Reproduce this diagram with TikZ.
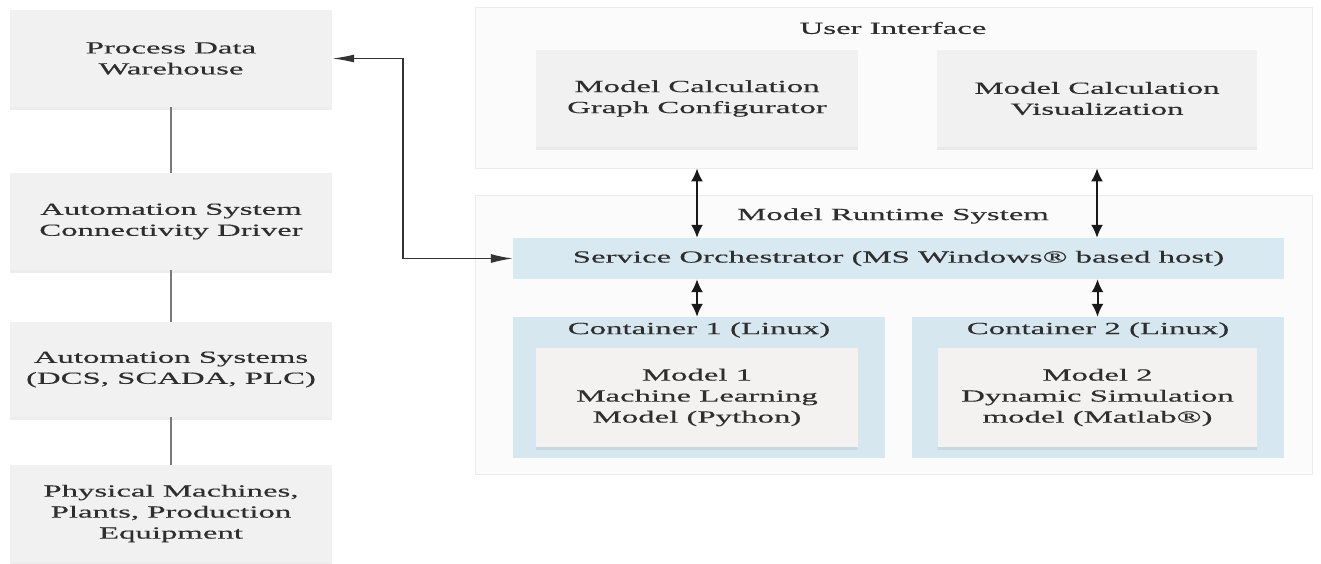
\documentclass[tikz,border=0pt]{standalone}
\usepackage{fontspec}
\setmainfont{Liberation Serif}[FakeStretch=1.93,FakeBold=0.4]
\usetikzlibrary{arrows.meta,shadows}
\definecolor{txt}{HTML}{2E2E2E}
\definecolor{boxgray}{HTML}{F1F1F1}
\definecolor{outerfill}{HTML}{FBFBFB}
\definecolor{outerline}{HTML}{ECECEC}
\definecolor{orchblue}{HTML}{D8E9F1}
\definecolor{contblue}{HTML}{D6E7EF}
\definecolor{modelfill}{HTML}{F4F2F0}
\definecolor{linkgray}{HTML}{7A7A7A}
\tikzset{
  base/.style={inner sep=0pt, align=center, text=txt, font=\fontsize{17}{21}\selectfont},
  graybox/.style={base, fill=boxgray, drop shadow={shadow xshift=0pt, shadow yshift=-2.5pt, opacity=0.14}},
  outerbox/.style={base, fill=outerfill, draw=outerline, line width=0.8pt},
  orchbox/.style={base, fill=orchblue},
  contbox/.style={base, fill=contblue},
  modelbox/.style={base, fill=modelfill, drop shadow={shadow xshift=0pt, shadow yshift=-2.5pt, opacity=0.14}},
  titletext/.style={base},
  link/.style={draw=linkgray, line width=2.5pt},
  dbl/.style={line width=2pt, draw=black!90, {Latex[length=13pt,width=12pt]}-{Latex[length=13pt,width=12pt]}},
  wharrow/.style={line width=1.4pt, draw=black!80, {Latex[length=22pt,width=8pt]}-{Latex[length=22pt,width=9pt]}}
}
\begin{document}
\begin{tikzpicture}[x=1pt,y=-1pt]
\useasboundingbox (0,0) rectangle (1321,563);
% left column
\node[graybox, minimum width=322pt, minimum height=97pt] (pdw) at (171,58.5) {Process Data\\Warehouse};
\node[graybox, minimum width=322pt, minimum height=97pt] (acd) at (171,221.5) {Automation System\\Connectivity Driver};
\node[graybox, minimum width=322pt, minimum height=95pt] (asy) at (171,369.5) {Automation Systems\\(DCS, SCADA, PLC)};
\node[graybox, minimum width=322pt, minimum height=97pt] (phy) at (171,513.5) {Physical Machines,\\Plants, Production\\Equipment};
\draw[link] (pdw.south) -- (acd.north);
\draw[link] (acd.south) -- (asy.north);
\draw[link] (asy.south) -- (phy.north);
% user interface
\node[outerbox, minimum width=837pt, minimum height=161pt] (ui) at (893.5,87.5) {};
\node[titletext] (uit) at (893,28) {User Interface};
\node[graybox, minimum width=322pt, minimum height=97pt] (gc) at (697,98.5) {Model Calculation\\Graph Configurator};
\node[graybox, minimum width=320pt, minimum height=97pt] (viz) at (1097,98.5) {Model Calculation\\Visualization};
% runtime
\node[outerbox, minimum width=837pt, minimum height=279pt] (rt) at (893.5,334.5) {};
\node[titletext] (rtt) at (893,216) {Model Runtime System};
\node[orchbox, minimum width=771pt, minimum height=41pt] (orch) at (898.5,258.5) {Service Orchestrator (MS Windows® based host)};
\node[contbox, minimum width=372pt, minimum height=141pt] (c1) at (699,387.5) {};
\node[titletext] (c1t) at (699,330) {Container 1 (Linux)};
\node[contbox, minimum width=372pt, minimum height=141pt] (c2) at (1098,387.5) {};
\node[titletext] (c2t) at (1098,330) {Container 2 (Linux)};
\node[modelbox, minimum width=322pt, minimum height=99pt] (m1) at (697,397.5) {Model 1\\Machine Learning\\Model (Python)};
\node[modelbox, minimum width=319pt, minimum height=99pt] (m2) at (1097.5,397.5) {Model 2\\Dynamic Simulation\\model (Matlab®)};
% arrows
\draw[dbl] (gc.south |- ui.south) -- (gc.south |- orch.north);
\draw[dbl] (viz.south |- ui.south) -- (viz.south |- orch.north);
\draw[dbl] (m1.north |- orch.south) -- (m1.north |- c1.north);
\draw[dbl] (m2.north |- orch.south) -- (m2.north |- c2.north);
\draw[wharrow] (pdw.east) -| ([xshift=-110pt]orch.west) -- (orch.west);
\end{tikzpicture}
\end{document}
